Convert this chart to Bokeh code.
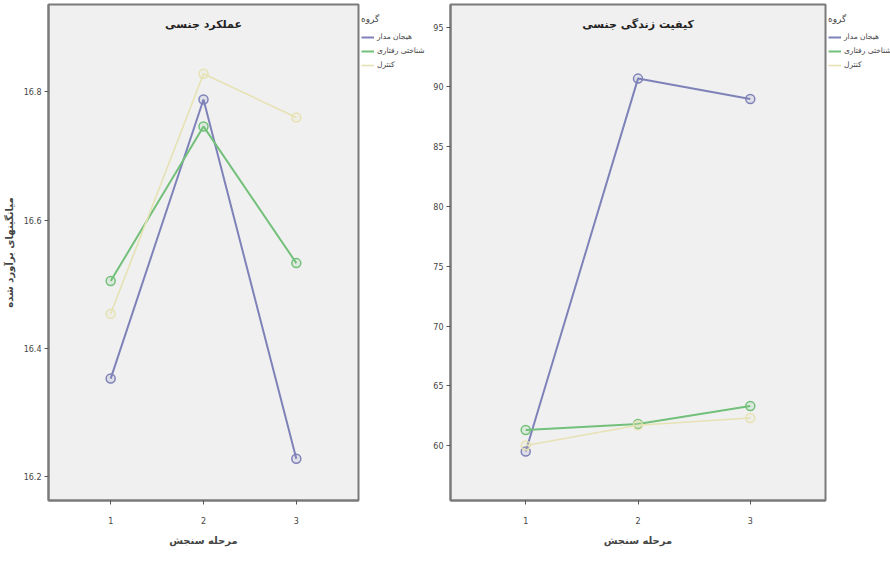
from bokeh.plotting import figure
from bokeh.layouts import row
from bokeh.models import Legend, LegendItem, Label, FixedTicker, Range1d, NumeralTickFormatter
from bokeh.embed import file_html
from bokeh.resources import INLINE

stages = [1, 2, 3]
groups = ["هیجان مدار", "شناختی رفتاری", "کنترل"]
colors = ["#7e82b8", "#72c07a", "#e6e2b4"]
widths = [2, 2, 1.6]

# Left panel: sexual function
func_emotion = [16.353, 16.788, 16.228]
func_cbt = [16.505, 16.746, 16.533]
func_control = [16.454, 16.828, 16.760]
func_ticks = [16.2, 16.4, 16.6, 16.8]

# Right panel: sexual quality of life
qol_emotion = [59.5, 90.7, 89.0]
qol_cbt = [61.3, 61.8, 63.3]
qol_control = [60.0, 61.7, 62.3]
qol_ticks = [60, 65, 70, 75, 80, 85, 90, 95]

title_left = "عملکرد جنسی"
title_right = "کیفیت زندگی جنسی"
x_label = "مرحله سنجش"
y_label = "میانگینهای برآورد شده"
legend_title = "گروه"

FONT = "DejaVu Sans"
FH = 496
TOTAL_H = 546
TOP = 4
BOTTOM = TOTAL_H - FH - TOP


def make_panel(series, yticks, yrange, title, ylabel, bl, fw):
    p = figure(frame_width=fw, frame_height=FH, output_backend="svg",
               toolbar_location=None,
               x_range=Range1d(0.33, 3.67), y_range=Range1d(*yrange),
               min_border_left=bl, min_border_right=2, min_border_top=TOP,
               min_border_bottom=BOTTOM)
    p.background_fill_color = "#f0f0f0"
    p.border_fill_color = "white"
    p.outline_line_color = "#7a7a7a"
    p.outline_line_width = 2
    p.xgrid.visible = False
    p.ygrid.visible = False
    for vals, name, c, lw in zip(series, groups, colors, widths):
        p.line(stages, vals, line_color=c, line_width=lw)
        p.scatter(stages, vals, marker="circle", size=9, line_color=c,
                  line_width=1.5, fill_color=c, fill_alpha=0.15)
    p.xaxis.ticker = FixedTicker(ticks=stages)
    p.yaxis.ticker = FixedTicker(ticks=yticks)
    for ax in (p.xaxis[0], p.yaxis[0]):
        ax.axis_line_color = "#7a7a7a"
        ax.axis_line_width = 2
        ax.major_tick_line_color = "#555555"
        ax.major_tick_out = 4
        ax.major_tick_in = 0
        ax.minor_tick_line_color = None
        ax.major_label_text_font_size = "8px"
        ax.major_label_text_color = "#444444"
        ax.major_label_text_font = FONT
    p.xaxis.major_label_standoff = 12
    p.yaxis.major_label_standoff = 3
    p.xaxis.axis_label = x_label
    p.xaxis.axis_label_text_font = FONT
    p.xaxis.axis_label_text_font_size = "10px"
    p.xaxis.axis_label_text_font_style = "bold"
    p.xaxis.axis_label_standoff = 8
    if ylabel:
        p.yaxis.axis_label = ylabel
        p.yaxis.axis_label_text_font = FONT
        p.yaxis.axis_label_text_font_size = "10px"
        p.yaxis.axis_label_text_font_style = "bold"
        p.yaxis.axis_label_standoff = 6
    mid_x = (stages[0] + stages[-1]) / 2
    p.add_layout(Label(x=mid_x, y=yrange[1], y_offset=-26, text=title,
                       text_align="center", text_font=FONT,
                       text_font_size="11px", text_font_style="bold",
                       text_color="#222222"))
    return p


def make_legend_fig(w):
    lf = figure(width=w, height=TOTAL_H, output_backend="svg",
                toolbar_location=None, min_border_left=1, min_border_right=0,
                min_border_top=TOP, min_border_bottom=BOTTOM,
                x_range=Range1d(0, 1), y_range=Range1d(0, 1))
    lf.axis.visible = False
    lf.grid.visible = False
    lf.outline_line_color = None
    lf.background_fill_color = "white"
    items = []
    for name, c, lw in zip(groups, colors, widths):
        # proxy renderers that sit outside the visible range; only the legend swatch shows
        r = lf.line(x=[5, 6], y=[5, 5], line_color=c, line_width=lw)
        items.append(LegendItem(label=name, renderers=[r]))
    leg = Legend(items=items, title=legend_title, location=(0, FH - 10 - 58),
                 label_text_font=FONT, label_text_font_size="7.5px",
                 label_text_color="#444444", title_text_font=FONT,
                 title_text_font_size="9px", title_text_font_style="normal",
                 title_text_color="#444444", title_standoff=7,
                 glyph_width=13, glyph_height=10, label_height=11,
                 label_standoff=3, spacing=3, padding=1, margin=0,
                 border_line_color=None, background_fill_alpha=0)
    lf.add_layout(leg, "center")
    return lf


left = make_panel([func_emotion, func_cbt, func_control], func_ticks,
                  (16.163, 16.936), title_left, y_label, 42, 310)
left.yaxis.formatter = NumeralTickFormatter(format="0.0")
leg_left = make_legend_fig(70)
right = make_panel([qol_emotion, qol_cbt, qol_control], qol_ticks,
                   (55.4, 96.9), title_right, None, 13, 375)
leg_right = make_legend_fig(66)

layout = row(left, leg_left, right, leg_right, spacing=0)
open("out.html", "w").write(file_html(layout, INLINE))
